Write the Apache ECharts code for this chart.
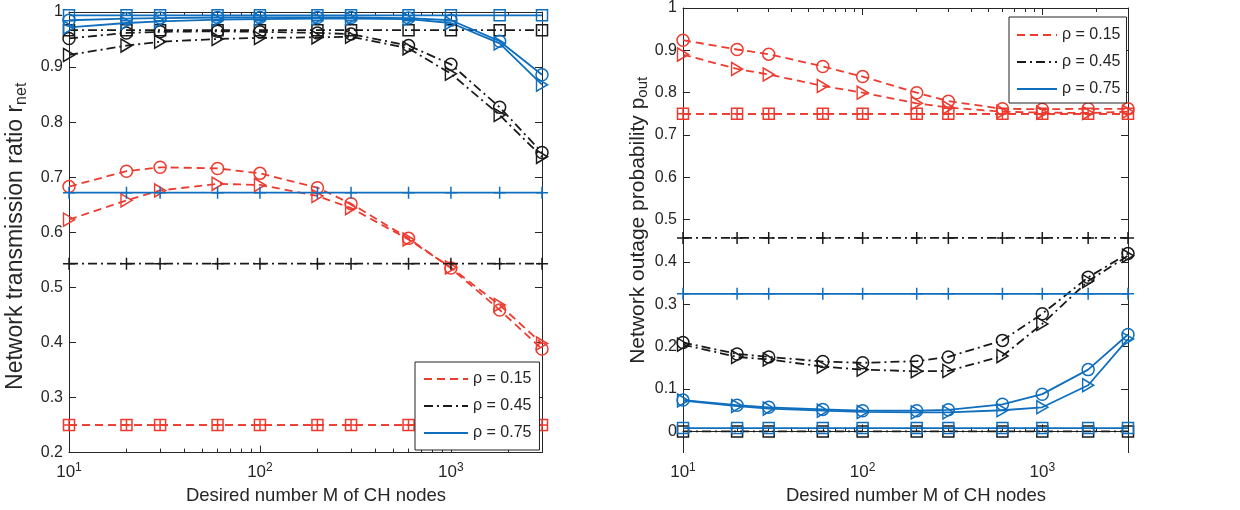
<!DOCTYPE html>
<html><head><meta charset="utf-8">
<script src="https://cdn.jsdelivr.net/npm/echarts@6/dist/echarts.min.js"></script>
<style>html,body{margin:0;padding:0;background:#fff}#c{width:1240px;height:510px}</style>
</head><body><div id="c"></div>
<script>
// ---------- data ----------
const xValues = [10, 20, 30, 60, 100, 200, 300, 600, 1000, 1800, 3000];
const xMajorTicks = [10, 100, 1000];
const xMinorTicks = [20, 30, 40, 50, 60, 70, 80, 90, 200, 300, 400, 500, 600, 700, 800, 900, 2000];
const leftYTicks = [0.2, 0.3, 0.4, 0.5, 0.6, 0.7, 0.8, 0.9, 1];
const rightYTicks = [0, 0.1, 0.2, 0.3, 0.4, 0.5, 0.6, 0.7, 0.8, 0.9, 1];
const legendNames = ['ρ = 0.15', 'ρ = 0.45', 'ρ = 0.75'];

// left: network transmission ratio r_net
const rnetRedCircle   = [0.683, 0.711, 0.718, 0.716, 0.707, 0.681, 0.652, 0.589, 0.535, 0.459, 0.388];
const rnetRedTri      = [0.623, 0.658, 0.676, 0.688, 0.686, 0.666, 0.644, 0.587, 0.536, 0.468, 0.398];
const rnetRedSquare   = [0.25, 0.25, 0.25, 0.25, 0.25, 0.25, 0.25, 0.25, 0.25, 0.25, 0.25];
const rnetRedPlus     = [0.25, 0.25, 0.25, 0.25, 0.25, 0.25, 0.25, 0.25, 0.25, 0.25, 0.25];
const rnetBlackCircle = [0.952, 0.962, 0.964, 0.965, 0.964, 0.962, 0.960, 0.939, 0.905, 0.827, 0.745];
const rnetBlackTri    = [0.922, 0.939, 0.946, 0.951, 0.953, 0.954, 0.955, 0.934, 0.888, 0.813, 0.737];
const rnetBlackSquare = [0.967, 0.967, 0.967, 0.967, 0.967, 0.967, 0.967, 0.967, 0.967, 0.967, 0.967];
const rnetBlackPlus   = [0.543, 0.543, 0.543, 0.543, 0.543, 0.543, 0.543, 0.543, 0.543, 0.543, 0.543];
const rnetBlueCircle  = [0.985, 0.988, 0.989, 0.990, 0.990, 0.990, 0.990, 0.989, 0.985, 0.947, 0.886];
const rnetBlueTri     = [0.972, 0.980, 0.983, 0.986, 0.987, 0.988, 0.988, 0.987, 0.980, 0.943, 0.868];
const rnetBlueSquare  = [0.994, 0.994, 0.994, 0.994, 0.994, 0.994, 0.994, 0.994, 0.994, 0.994, 0.994];
const rnetBluePlus    = [0.672, 0.672, 0.672, 0.672, 0.672, 0.672, 0.672, 0.672, 0.672, 0.672, 0.672];

// right: network outage probability p_out
const poutRedCircle   = [0.924, 0.902, 0.891, 0.862, 0.838, 0.800, 0.780, 0.762, 0.761, 0.762, 0.762];
const poutRedTri      = [0.890, 0.856, 0.843, 0.816, 0.800, 0.775, 0.765, 0.755, 0.753, 0.752, 0.755];
const poutRedSquare   = [0.75, 0.75, 0.75, 0.75, 0.75, 0.75, 0.75, 0.75, 0.75, 0.75, 0.75];
const poutRedPlus     = [0.75, 0.75, 0.75, 0.75, 0.75, 0.75, 0.75, 0.75, 0.75, 0.75, 0.75];
const poutBlackCircle = [0.210, 0.183, 0.176, 0.165, 0.162, 0.166, 0.176, 0.215, 0.278, 0.364, 0.420];
const poutBlackTri    = [0.205, 0.176, 0.170, 0.153, 0.146, 0.142, 0.143, 0.178, 0.254, 0.355, 0.415];
const poutBlackSquare = [0.0, 0.0, 0.0, 0.0, 0.0, 0.0, 0.0, 0.0, 0.0, 0.0, 0.0];
const poutBlackPlus   = [0.457, 0.457, 0.457, 0.457, 0.457, 0.457, 0.457, 0.457, 0.457, 0.457, 0.457];
const poutBlueCircle  = [0.074, 0.062, 0.057, 0.052, 0.049, 0.049, 0.051, 0.064, 0.088, 0.146, 0.229];
const poutBlueTri     = [0.073, 0.060, 0.054, 0.049, 0.046, 0.045, 0.045, 0.050, 0.057, 0.109, 0.218];
const poutBlueSquare  = [0.008, 0.008, 0.008, 0.008, 0.008, 0.008, 0.008, 0.008, 0.008, 0.008, 0.008];
const poutBluePlus    = [0.325, 0.325, 0.325, 0.325, 0.325, 0.325, 0.325, 0.325, 0.325, 0.325, 0.325];

// ---------- styles ----------
const RED = '#EE3B2F', BLACK = '#1A1A1A', BLUE = '#0F6FBE', AX = '#262626';
const FONT = '"Liberation Sans", Arial, Helvetica, sans-serif';
const DASH = [8, 5], DASHDOT = [9, 4, 2, 4];
const SYM = {
  circle: ['circle', 12],
  tri: ['path://M0,0L10,6L0,12Z', [11, 13]],
  square: ['rect', 11],
  plus: ['path://M6,0L6,12M0,6L12,6', 12],
  plusIn: ['path://M6,0L6,12M0,6L12,6', 11]
};

function mk(id, xi, yi, ys, color, dash, sym) {
  return {
    type: 'line', name: id, xAxisIndex: xi, yAxisIndex: yi,
    data: xValues.map((x, i) => [x, ys[i]]),
    symbol: SYM[sym][0], symbolSize: SYM[sym][1],
    lineStyle: { color: color, width: 1.8, type: dash },
    itemStyle: { color: 'rgba(255,255,255,0)', borderColor: color, borderWidth: 1.5 },
    emphasis: { disabled: true }, silent: true, animation: false, z: 3
  };
}
function dummy(name, color, dash) {
  return { type: 'line', name: name, xAxisIndex: 0, yAxisIndex: 0, data: [], symbol: 'none',
    lineStyle: { color: color, width: 2, type: dash }, itemStyle: { color: color }, animation: false };
}

function supFmt(v) {
  const e = Math.round(Math.log10(v));
  return '{b|10}{p|' + e + '}';
}

function xAxes(grid, nameGap) {
  const base = { type: 'log', logBase: 10, min: 10, max: 3000, gridIndex: grid, splitLine: { show: false } };
  return [
    Object.assign({}, base, {
      position: 'bottom',
      axisLine: { show: true, lineStyle: { color: AX, width: 1 } },
      axisTick: { show: true, inside: true, length: 7, customValues: xMajorTicks, lineStyle: { color: AX } },
      axisLabel: { show: true, customValues: xMajorTicks, formatter: supFmt, margin: 9, color: AX,
        rich: { b: { fontSize: 17, fontFamily: FONT, color: AX, lineHeight: 22 },
                p: { fontSize: 12, fontFamily: FONT, color: AX, verticalAlign: 'top', lineHeight: 12 } } },
      name: 'Desired number M of CH nodes', nameLocation: 'middle', nameGap: nameGap,
      nameTextStyle: { fontSize: 18.5, fontFamily: FONT, color: AX, padding: [0, 0, 0, 21] }
    }),
    Object.assign({}, base, {
      position: 'bottom',
      axisLine: { show: false },
      axisTick: { show: true, inside: true, length: 4, customValues: xMinorTicks, lineStyle: { color: AX } },
      axisLabel: { show: false }
    }),
    Object.assign({}, base, {
      position: 'top',
      axisLine: { show: true, lineStyle: { color: AX, width: 1 } },
      axisTick: { show: true, inside: true, length: 7, customValues: xMajorTicks, lineStyle: { color: AX } },
      axisLabel: { show: false }
    }),
    Object.assign({}, base, {
      position: 'top',
      axisLine: { show: false },
      axisTick: { show: true, inside: true, length: 4, customValues: xMinorTicks, lineStyle: { color: AX } },
      axisLabel: { show: false }
    })
  ];
}

function yAxes(grid, min, max, ticks, nameRich, nameGap, fs, namePad) {
  const base = { type: 'value', min: min, max: max, gridIndex: grid, splitLine: { show: false } };
  return [
    Object.assign({}, base, {
      position: 'left',
      axisLine: { show: true, lineStyle: { color: AX, width: 1 } },
      axisTick: { show: true, inside: true, length: 7, customValues: ticks, lineStyle: { color: AX } },
      axisLabel: { show: true, customValues: ticks, fontSize: 16, fontFamily: FONT, color: AX, margin: 6,
        formatter: v => String(Math.round(v * 10) / 10) },
      name: nameRich, nameLocation: 'middle', nameGap: nameGap, nameRotate: 90,
      nameTextStyle: { fontSize: fs, fontFamily: FONT, color: AX, padding: namePad,
        rich: { a: { fontSize: fs, fontFamily: FONT, color: AX, lineHeight: fs + 5 },
                s: { fontSize: Math.round(fs * 0.7), fontFamily: FONT, color: AX, verticalAlign: 'bottom', lineHeight: Math.round(fs * 0.7) } } }
    }),
    Object.assign({}, base, {
      position: 'right',
      axisLine: { show: true, lineStyle: { color: AX, width: 1 } },
      axisTick: { show: true, inside: true, length: 7, customValues: ticks, lineStyle: { color: AX } },
      axisLabel: { show: false }
    })
  ];
}

const legendBase = {
  data: legendNames, orient: 'vertical', backgroundColor: '#fff', borderColor: '#222', borderWidth: 1,
  itemHeight: 14, selectedMode: false, z: 10,
  itemStyle: { color: 'rgba(0,0,0,0)', borderColor: 'rgba(0,0,0,0)', borderWidth: 0 },
  textStyle: { fontSize: 16, fontFamily: FONT, color: AX }
};

const series = [
  dummy(legendNames[0], RED, DASH), dummy(legendNames[1], BLACK, DASHDOT), dummy(legendNames[2], BLUE, 'solid'),
  // left grid
  mk('Lrc', 0, 0, rnetRedCircle, RED, DASH, 'circle'),
  mk('Lrt', 0, 0, rnetRedTri, RED, DASH, 'tri'),
  mk('Lrs', 0, 0, rnetRedSquare, RED, DASH, 'square'),
  mk('Lrp', 0, 0, rnetRedPlus, RED, DASH, 'plusIn'),
  mk('Lkc', 0, 0, rnetBlackCircle, BLACK, DASHDOT, 'circle'),
  mk('Lkt', 0, 0, rnetBlackTri, BLACK, DASHDOT, 'tri'),
  mk('Lks', 0, 0, rnetBlackSquare, BLACK, DASHDOT, 'square'),
  mk('Lkp', 0, 0, rnetBlackPlus, BLACK, DASHDOT, 'plus'),
  mk('Lbc', 0, 0, rnetBlueCircle, BLUE, 'solid', 'circle'),
  mk('Lbt', 0, 0, rnetBlueTri, BLUE, 'solid', 'tri'),
  mk('Lbs', 0, 0, rnetBlueSquare, BLUE, 'solid', 'square'),
  mk('Lbp', 0, 0, rnetBluePlus, BLUE, 'solid', 'plus'),
  // right grid
  mk('Rrc', 4, 2, poutRedCircle, RED, DASH, 'circle'),
  mk('Rrt', 4, 2, poutRedTri, RED, DASH, 'tri'),
  mk('Rrs', 4, 2, poutRedSquare, RED, DASH, 'square'),
  mk('Rrp', 4, 2, poutRedPlus, RED, DASH, 'plusIn'),
  mk('Rkc', 4, 2, poutBlackCircle, BLACK, DASHDOT, 'circle'),
  mk('Rkt', 4, 2, poutBlackTri, BLACK, DASHDOT, 'tri'),
  mk('Rks', 4, 2, poutBlackSquare, BLACK, DASHDOT, 'square'),
  mk('Rkp', 4, 2, poutBlackPlus, BLACK, DASHDOT, 'plus'),
  mk('Rbc', 4, 2, poutBlueCircle, BLUE, 'solid', 'circle'),
  mk('Rbt', 4, 2, poutBlueTri, BLUE, 'solid', 'tri'),
  mk('Rbs', 4, 2, poutBlueSquare, BLUE, 'solid', 'square'),
  mk('Rbp', 4, 2, poutBluePlus, BLUE, 'solid', 'plus')
];

const option = {
  backgroundColor: '#fff',
  animation: false,
  textStyle: { fontFamily: FONT },
  grid: [
    { left: 69, top: 12, width: 473, height: 443, containLabel: false },
    { left: 683, top: 8, width: 445, height: 445, containLabel: false }
  ],
  xAxis: [].concat(xAxes(0, 33), xAxes(1, 30)),
  yAxis: [].concat(
    yAxes(0, 0.2, 1, leftYTicks, '{a|Network transmission ratio r}{s|net}', 39, 23, [0, 8, 0, 0]),
    yAxes(1, -0.05, 1, rightYTicks, '{a|Network outage probability p}{s|out}', 30, 21, [0, 0, 0, 20])
  ),
  legend: [
    Object.assign({}, legendBase, { left: 415, top: 362, padding: [9, 8, 9, 8], itemWidth: 44, itemGap: 11 }),
    Object.assign({}, legendBase, { left: 1009, top: 17, padding: [10, 6, 6, 7], itemWidth: 40, itemGap: 11 })
  ],
  series: series
};

const chart = echarts.init(document.getElementById('c'), null, { renderer: 'canvas' });
chart.setOption(option);
</script>
</body></html>
